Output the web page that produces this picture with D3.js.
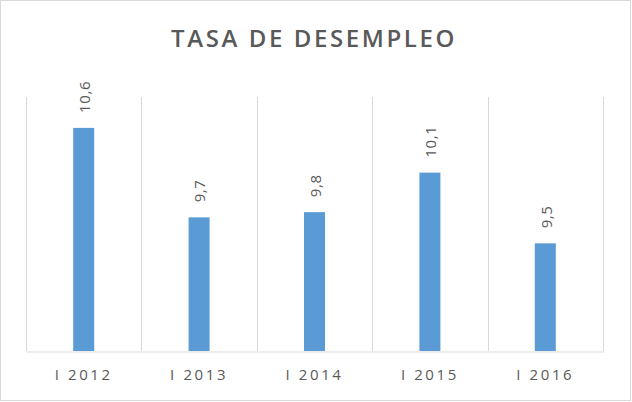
<!DOCTYPE html>
<html>
<head>
<meta charset="utf-8">
<script src="https://cdn.jsdelivr.net/npm/d3@7"></script>
<style>
  html, body { margin: 0; padding: 0; background: #fff; }
  svg { display: block; }
</style>
</head>
<body>
<svg id="chart" width="632" height="402"></svg>
<script>
const title = "TASA DE DESEMPLEO";
const categories = ["I 2012", "I 2013", "I 2014", "I 2015", "I 2016"];
const values = [10.57, 9.71, 9.76, 10.14, 9.46];
const yDomain = [8.425, 10.867];

const svg = d3.select("#chart");
const W = 632, H = 402;
const m = { left: 26, right: 29, top: 97, bottom: 51 };

svg.append("rect")
  .attr("x", 0.5).attr("y", 0.5)
  .attr("width", W - 2).attr("height", H - 2)
  .attr("fill", "#fff").attr("stroke", "#d9d9d9").attr("stroke-width", 1);

const x = d3.scaleBand().domain(categories).range([m.left, W - m.right]).paddingInner(0).paddingOuter(0);
const y = d3.scaleLinear().domain(yDomain).range([H - m.bottom, m.top]);

// vertical gridlines at category boundaries
const bounds = categories.map(c => x(c)).concat([x.range()[1]]);
svg.append("g").selectAll("line").data(bounds).join("line")
  .attr("x1", d => Math.round(d) + 0.5).attr("x2", d => Math.round(d) + 0.5)
  .attr("y1", m.top).attr("y2", H - m.bottom)
  .attr("stroke", "#d9d9d9").attr("stroke-width", 1);

// bars
const bw = 21;
svg.append("g").selectAll("rect").data(values).join("rect")
  .attr("x", (d, i) => x(categories[i]) + x.bandwidth() / 2 - bw / 2)
  .attr("y", d => y(d))
  .attr("width", bw)
  .attr("height", d => y(yDomain[0]) - y(d))
  .attr("fill", "#5b9bd5");

// baseline axis
const xAxis = d3.axisBottom(x).tickSize(0).tickPadding(18);
const ax = svg.append("g").attr("transform", `translate(0,${H - m.bottom + 0.5})`).call(xAxis);
ax.select(".domain").attr("stroke", "#d9d9d9");
ax.selectAll("text")
  .attr("fill", "#595959")
  .style("font-family", "'Open Sans', sans-serif")
  .style("font-size", "15px")
  .style("letter-spacing", "2.6px");

// value labels (rotated)
const fmt = v => d3.format(".1f")(v).replace(".", ",");
svg.append("g").selectAll("text").data(values).join("text")
  .attr("transform", (d, i) => `translate(${x(categories[i]) + x.bandwidth() / 2 + 1},${y(d) - 15}) rotate(-90)`)
  .attr("dy", "0.35em")
  .attr("text-anchor", "start")
  .attr("fill", "#595959")
  .style("font-family", "'Open Sans', sans-serif")
  .style("font-size", "15px")
  .style("letter-spacing", "0.6px")
  .text(d => fmt(d));

// title
svg.append("text")
  .attr("x", W / 2 - 2).attr("y", 47)
  .attr("text-anchor", "middle")
  .attr("fill", "#595959")
  .style("font-family", "'Open Sans', sans-serif")
  .style("font-weight", "600")
  .style("font-size", "24px")
  .style("letter-spacing", "2.6px")
  .text(title);
</script>
</body>
</html>
